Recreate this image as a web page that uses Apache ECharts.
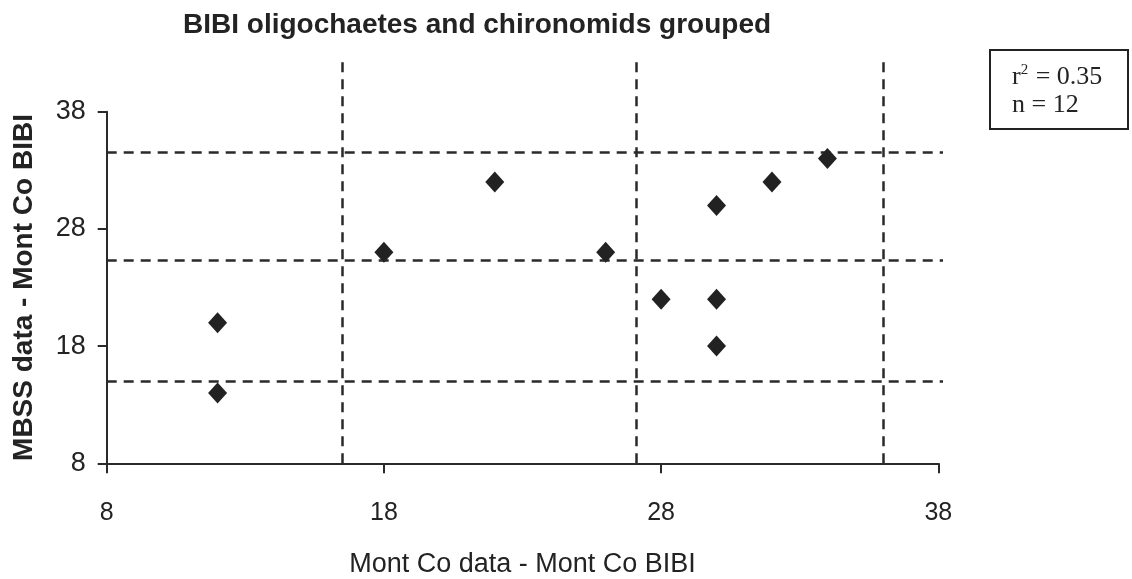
<!DOCTYPE html>
<html>
<head>
<meta charset="utf-8">
<script src="https://cdn.jsdelivr.net/npm/echarts@6/dist/echarts.min.js"></script>
<style>
html,body{margin:0;padding:0;background:#fff;}
#chart{width:1132px;height:579px;}
</style>
</head>
<body>
<div id="chart"></div>
<script>
// ---- data ----
const montCoBIBI = [12, 12, 18, 22, 26, 28, 30, 30, 30, 32, 34];
const mbssBIBI   = [20, 14, 26, 32, 26, 22, 30, 22, 18, 32, 34];
const verticalThresholds = [16.5, 27.1, 36];
const horizontalThresholds = [15, 25.3, 34.5];
const axisTicks = [8, 18, 28, 38];
const chartTitle = 'BIBI oligochaetes and chironomids grouped';
const xTitle = 'Mont Co data - Mont Co BIBI';
const yTitle = 'MBSS data - Mont Co BIBI';
const statsLines = ['r', '2', ' = 0.35', 'n = 12'];

const points = montCoBIBI.map((x, i) => [x, mbssBIBI[i]]);
const ink = '#232323';
const sans = '"Liberation Sans", Arial, sans-serif';
const serif = '"Liberation Serif", "Times New Roman", serif';
const dash = { color: '#2a2a2a', width: 2.5, type: [10, 7], opacity: 1 };

const chart = echarts.init(document.getElementById('chart'));
chart.setOption({
  animation: false,
  backgroundColor: '#fff',
  title: [
    {
      text: chartTitle, left: 183, top: 11, padding: 0,
      textStyle: { fontFamily: sans, fontWeight: 'bold', fontSize: 28, color: ink }
    },
    {
      text: '{a|' + statsLines[0] + '}{s|' + statsLines[1] + '}{a|' + statsLines[2] + '}\n{a|' + statsLines[3] + '}',
      left: 990, top: 50,
      padding: [13, 26, 11, 22],
      borderColor: '#222', borderWidth: 2,
      textStyle: {
        fontWeight: 'normal',
        rich: {
          a: { fontFamily: serif, fontWeight: 'normal', fontSize: 26, color: ink, lineHeight: 28 },
          s: { fontFamily: serif, fontWeight: 'normal', fontSize: 15, color: ink, lineHeight: 28, verticalAlign: 'top', padding: [0, 1, 10, 0] }
        }
      }
    }
  ],
  grid: [
    { left: 106.7, right: 193.7, top: 111.7, bottom: 115.7, outerBoundsMode: 'none', containLabel: false },
    { left: 106.7, right: 193.7, top: 60, bottom: 115.7, outerBoundsMode: 'none', containLabel: false },
    { left: 106.7, right: 189, top: 111.7, bottom: 115.7, outerBoundsMode: 'none', containLabel: false }
  ],
  xAxis: [
    {
      gridIndex: 0, type: 'value', min: axisTicks[0], max: axisTicks[axisTicks.length - 1], interval: 10,
      name: xTitle, nameLocation: 'middle', nameGap: 88,
      nameTextStyle: { fontFamily: sans, fontSize: 27, color: ink },
      axisLine: { show: true, lineStyle: { color: '#2a2a2a', width: 2 } },
      axisTick: { show: true, length: 10, lineStyle: { color: '#2a2a2a', width: 2 } },
      axisLabel: { fontFamily: sans, fontSize: 25, color: ink, margin: 37 },
      splitLine: { show: false }
    },
    { gridIndex: 1, type: 'value', min: axisTicks[0], max: axisTicks[axisTicks.length - 1], show: false, splitLine: { show: false } },
    { gridIndex: 2, type: 'value', min: 0, max: 1, show: false, splitLine: { show: false } }
  ],
  yAxis: [
    {
      gridIndex: 0, type: 'value', min: axisTicks[0], max: axisTicks[axisTicks.length - 1], interval: 10,
      name: yTitle, nameLocation: 'middle', nameGap: 68,
      nameTextStyle: { fontFamily: sans, fontSize: 28, fontWeight: 'bold', color: ink },
      axisLine: { show: true, lineStyle: { color: '#2a2a2a', width: 2 } },
      axisTick: { show: true, length: 9, lineStyle: { color: '#2a2a2a', width: 2 } },
      axisLabel: { fontFamily: sans, fontSize: 27, color: ink, margin: 21 },
      splitLine: { show: false }
    },
    { gridIndex: 1, type: 'value', min: 0, max: 1, show: false, splitLine: { show: false } },
    { gridIndex: 2, type: 'value', min: axisTicks[0], max: axisTicks[axisTicks.length - 1], show: false, splitLine: { show: false } }
  ],
  series: [
    {
      type: 'line', xAxisIndex: 1, yAxisIndex: 1, data: [], silent: true,
      markLine: {
        silent: true, symbol: 'none', label: { show: false }, lineStyle: dash,
        emphasis: { disabled: true },
        data: verticalThresholds.map(v => ({ xAxis: v }))
      }
    },
    {
      type: 'line', xAxisIndex: 2, yAxisIndex: 2, data: [], silent: true,
      markLine: {
        silent: true, symbol: 'none', label: { show: false }, lineStyle: dash,
        emphasis: { disabled: true },
        data: horizontalThresholds.map(v => ({ yAxis: v }))
      }
    },
    {
      type: 'scatter', xAxisIndex: 0, yAxisIndex: 0, data: points,
      symbol: 'diamond', symbolSize: [19, 21],
      itemStyle: { color: '#222', opacity: 1 }, z: 5
    }
  ]
});
</script>
</body>
</html>
